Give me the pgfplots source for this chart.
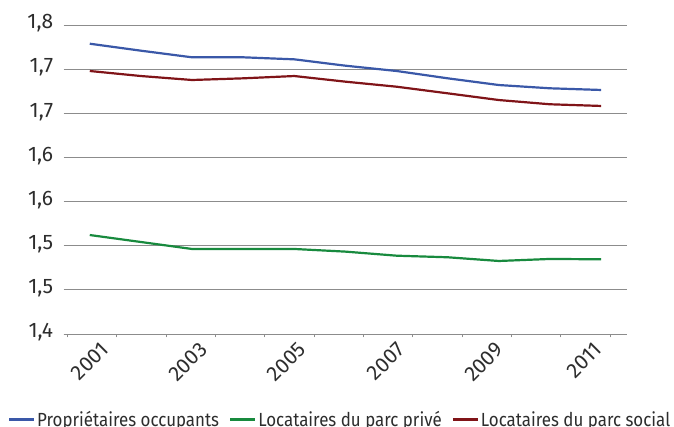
\documentclass[border=0pt]{standalone}
\usepackage{fontspec}
\setmainfont{Fira Sans}
\newfontfamily\legendfont{Fira Sans}[FakeStretch=0.89]
\usepackage{pgfplots}
\pgfplotsset{compat=1.18}

\definecolor{proprio}{RGB}{58,88,168}
\definecolor{prive}{RGB}{24,138,62}
\definecolor{social}{RGB}{128,20,24}
\definecolor{gridgray}{RGB}{140,140,140}
\definecolor{labelgray}{RGB}{45,45,45}

\newcommand\tickfont{\fontsize{21}{23}\selectfont}

\begin{document}
\begin{tikzpicture}[x=1pt,y=1pt]
\useasboundingbox (0,0) rectangle (674,427);
\begin{axis}[
  at={(63.7pt,93pt)}, anchor=south west,
  scale only axis, width=563pt, height=309pt,
  xmin=2000.49, xmax=2011.5, ymin=1.40, ymax=1.75,
  axis x line*=bottom, axis y line*=left,
  y axis line style={draw=none},
  x axis line style={gridgray, line width=0.9pt, -},
  ytick={1.40,1.45,1.50,1.55,1.60,1.65,1.70,1.75},
  yticklabels={{1,4},{1,5},{1,5},{1,6},{1,6},{1,7},{1,7},{1,8}},
  ymajorgrids, grid style={gridgray, line width=0.9pt},
  ytick style={draw=none},
  % tick marks separating the yearly categories
  xtick={2000.56,2001.525,2002.49,2003.455,2004.42,2005.385,2006.35,2007.315,2008.28,2009.245,2010.21,2011.175},
  xticklabels={},
  xtick align=outside, major tick length=3.5pt,
  xtick style={gridgray, line width=0.9pt},
  % year labels, centred in their categories
  extra x ticks={2001.0425,2002.9725,2004.9025,2006.8325,2008.7625,2010.6925},
  extra x tick labels={2001,2003,2005,2007,2009,2011},
  extra x tick style={major tick length=0pt, grid=none,
    tick label style={rotate=45, anchor=north east, xshift=4pt, yshift=-7pt}},
  /pgf/number format/assume math mode=true,
  every tick label/.append style={font=\tickfont, text=labelgray},
  yticklabel style={xshift=-7pt, yshift=1.5pt},
  legend style={draw=none, fill=none, legend columns=3, inner sep=0pt, outer sep=0pt,
    at={(-0.0989,-0.2767)}, anchor=west,
    font=\legendfont\fontsize{19}{21}\selectfont, text=labelgray,
    nodes={inner xsep=2pt, inner ysep=1pt},
    /tikz/every even column/.append style={column sep=8pt}},
  legend image code/.code={\draw[#1, line width=2.2pt] (0pt,0pt) -- (25pt,0pt);},
  every axis plot/.append style={line width=2.2pt, no marks},
]
\addplot[proprio] coordinates {
  (2001,1.7288) (2002,1.7209) (2003,1.7134) (2004,1.7134) (2005,1.7111)
  (2006,1.7039) (2007,1.6979) (2008,1.6896) (2009,1.6820) (2010,1.6783) (2011,1.6764)};
\addlegendentry{Propriétaires occupants}
\addplot[prive] coordinates {
  (2001,1.5121) (2002,1.5042) (2003,1.4963) (2004,1.4963) (2005,1.4963)
  (2006,1.4933) (2007,1.4887) (2008,1.4869) (2009,1.4827) (2010,1.4850) (2011,1.4846)};
\addlegendentry{Locataires du parc privé}
\addplot[social] coordinates {
  (2001,1.6979) (2002,1.6922) (2003,1.6877) (2004,1.6896) (2005,1.6922)
  (2006,1.6858) (2007,1.6801) (2008,1.6726) (2009,1.6650) (2010,1.6602) (2011,1.6583)};
\addlegendentry{Locataires du parc social}
\end{axis}
\end{tikzpicture}
\end{document}
